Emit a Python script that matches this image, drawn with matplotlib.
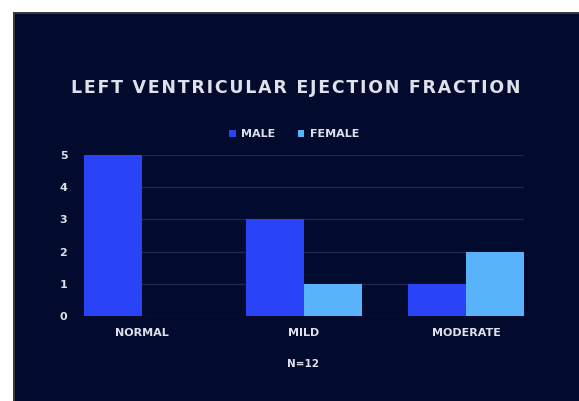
import matplotlib
matplotlib.use('Agg')
import matplotlib.pyplot as plt
from matplotlib.patches import Rectangle
import numpy as np

categories = ['NORMAL', 'MILD', 'MODERATE']
male = [5, 3, 1]
female = [0, 1, 2]
series_names = ['MALE', 'FEMALE']
note = 'N=12'
title = 'LEFT VENTRICULAR EJECTION FRACTION'

bg = '#020a2e'
male_col = '#2943f6'
female_col = '#58b3fb'
txt_col = '#dfe1ea'

W, H = 579, 401
fig = plt.figure(figsize=(W / 100, H / 100), dpi=100, facecolor='white')

# dark panel with thin grey edge
fig.patches.append(Rectangle((13 / W, 0), 1, 1 - 12 / H, transform=fig.transFigure,
                             facecolor='#3a3a3a', edgecolor='none', zorder=-10))
fig.patches.append(Rectangle((14.5 / W, 0), 1, 1 - 13.5 / H, transform=fig.transFigure,
                             facecolor=bg, edgecolor='none', zorder=-9))

ax = fig.add_axes([84 / W, 85 / H, 440 / W, 161 / H])
ax.set_facecolor('none')

x = np.arange(len(categories))
w = 0.358
for v in range(0, 6):
    ax.axhline(v, color='#1d2550', lw=1, zorder=0)
ax.bar(x - w / 2, male, w, color=male_col, label=series_names[0], zorder=2)
ax.bar(x + w / 2, female, w, color=female_col, label=series_names[1], zorder=2)

ax.set_xlim(-w, 2 + w)
ax.set_ylim(0, 5)
ax.set_xticks(x)
ax.set_xticklabels(categories)
ax.set_yticks(range(6))
ax.tick_params(length=0, colors=txt_col, labelsize=8)
ax.tick_params(axis='x', pad=9)
ax.tick_params(axis='y', pad=12)
for lab in ax.get_yticklabels() + ax.get_xticklabels():
    lab.set_fontweight('bold')
for s in ax.spines.values():
    s.set_visible(False)

spaced = '\u200a'.join(title)
fig.text(296 / W, 1 - 88 / H, spaced, ha='center', va='center', color=txt_col,
         fontsize=12.5, fontweight='bold')

leg = fig.legend(loc='center', bbox_to_anchor=(294 / W, 1 - 134 / H), ncol=2, frameon=False,
                 handlelength=0.6, handleheight=0.6, handletextpad=0.5, columnspacing=2.0,
                 prop={'size': 8, 'weight': 'bold'})
for t in leg.get_texts():
    t.set_color(txt_col)

fig.text(303 / W, 1 - 364 / H, note, ha='center', va='center', color=txt_col, fontsize=7.5,
         fontweight='bold')

fig.savefig('out.png', dpi=100, facecolor='white')
